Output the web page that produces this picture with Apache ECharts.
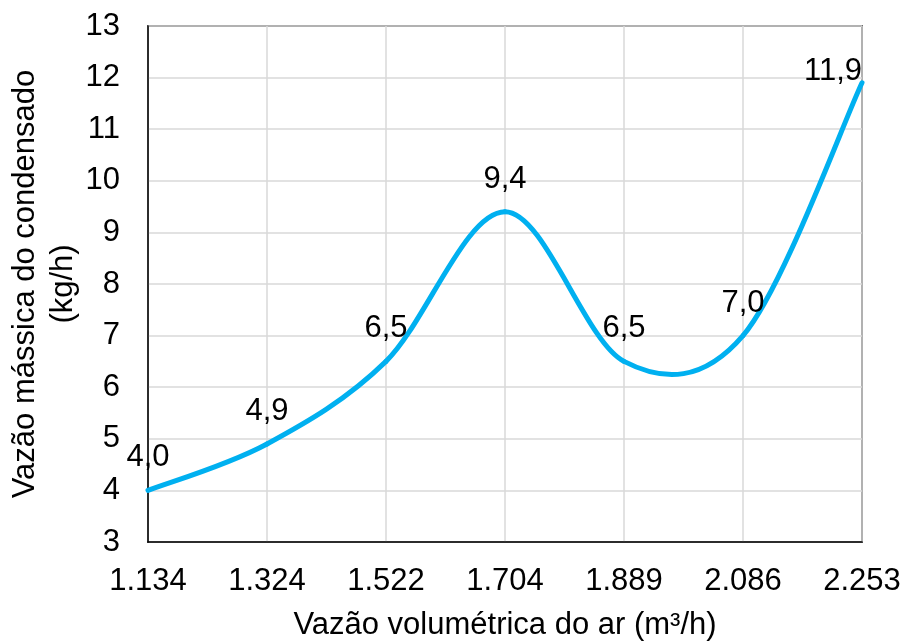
<!DOCTYPE html>
<html>
<head>
<meta charset="utf-8">
<script src="https://cdn.jsdelivr.net/npm/echarts@6/dist/echarts.min.js"></script>
<style>
  html, body { margin: 0; padding: 0; background: #fff; }
  #chart { width: 905px; height: 641px; }
</style>
</head>
<body>
<div id="chart"></div>
<script>
// Air volumetric flow (categories) and condensate mass flow
const flowCategories = ['1.134', '1.324', '1.522', '1.704', '1.889', '2.086', '2.253'];
const condensateValues = [4.0, 4.9, 6.5, 9.4, 6.5, 7.0, 11.9];
const yMin = 3;
const yMax = 13;
const yStep = 1;

const fontFamily = '"Liberation Sans", Arial, sans-serif';
const lineColor = '#00b0f0';
const labelFont = '31px "Liberation Sans", Arial, sans-serif';
const fmtComma = v => v.toFixed(1).replace('.', ',');

const points = condensateValues.map((v, i) => [i, v]);

// Smoothed segment (Catmull-Rom style) from point i-1 to point i, plus the value label of point i
function renderPoint(params, api) {
  const i = params.dataIndex;
  const n = params.dataInsideLength;
  const P = k => api.coord([api.value(0, k), api.value(1, k)]);
  const children = [];
  const pt = P(i);
  if (i > 0) {
    const p0 = P(Math.max(i - 2, 0));
    const p1 = P(i - 1);
    const p3 = P(Math.min(i + 1, n - 1));
    children.push({
      type: 'bezierCurve',
      z2: 1,
      shape: {
        x1: p1[0], y1: p1[1],
        x2: pt[0], y2: pt[1],
        cpx1: p1[0] + (pt[0] - p0[0]) / 6,
        cpy1: p1[1] + (pt[1] - p0[1]) / 6,
        cpx2: pt[0] - (p3[0] - p1[0]) / 6,
        cpy2: pt[1] - (p3[1] - p1[1]) / 6
      },
      style: { stroke: lineColor, lineWidth: 5, fill: null, lineCap: 'round' }
    });
  }
  // the last label sits tucked inside the plot's right edge
  const last = i === n - 1;
  children.push({
    type: 'text',
    z2: 5,
    x: pt[0],
    y: last ? pt[1] + 4 : pt[1] - 17,
    style: {
      text: fmtComma(api.value(1, i)),
      font: labelFont,
      fill: '#000000',
      align: last ? 'right' : 'center',
      verticalAlign: 'bottom'
    }
  });
  return { type: 'group', children };
}

const chart = echarts.init(document.getElementById('chart'), null, { renderer: 'canvas' });
chart.setOption({
  animation: false,
  backgroundColor: '#ffffff',
  grid: {
    left: 148, right: 43, top: 26, bottom: 99,
    outerBoundsMode: 'none',
    containLabel: false,
    show: true, borderColor: '#000000', borderWidth: 1.5, backgroundColor: 'transparent'
  },
  xAxis: {
    type: 'category',
    data: flowCategories,
    boundaryGap: false,
    axisLine: { lineStyle: { color: '#000000', width: 1.5 } },
    axisTick: { show: false },
    axisLabel: { color: '#000000', fontSize: 31, fontFamily, margin: 24 },
    splitLine: { show: true, lineStyle: { color: '#d9d9d9', width: 1.5 } },
    name: 'Vazão volumétrica do ar (m³/h)',
    nameLocation: 'middle',
    nameGap: 68,
    nameMoveOverlap: false,
    nameTextStyle: { color: '#000000', fontSize: 31, fontFamily }
  },
  yAxis: {
    type: 'value',
    min: yMin, max: yMax, interval: yStep,
    axisLine: { show: true, lineStyle: { color: '#000000', width: 1.5 } },
    axisTick: { show: false },
    axisLabel: { color: '#000000', fontSize: 31, fontFamily, margin: 28 },
    splitLine: { show: true, lineStyle: { color: '#d9d9d9', width: 1.5 } },
    name: 'Vazão mássica do condensado\n(kg/h)',
    nameLocation: 'middle',
    nameGap: 66,
    nameMoveOverlap: false,
    nameTextStyle: { color: '#000000', fontSize: 31, fontFamily, lineHeight: 38 }
  },
  series: [
    {
      type: 'custom',
      data: points,
      encode: { x: 0, y: 1 },
      renderItem: renderPoint,
      clip: false,
      z: 3
    }
  ]
});
</script>
</body>
</html>
